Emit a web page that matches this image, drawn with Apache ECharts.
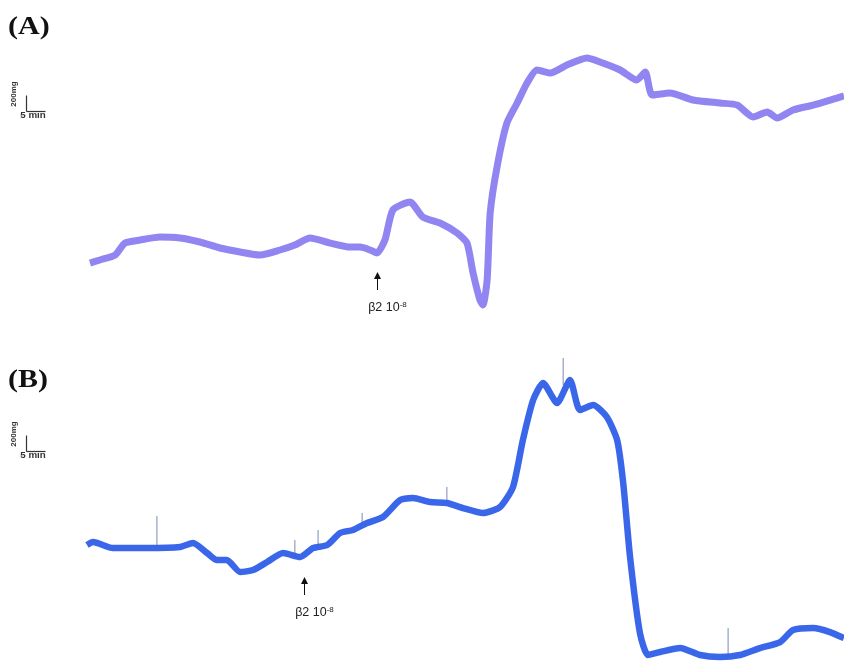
<!DOCTYPE html>
<html><head><meta charset="utf-8">
<script src="https://cdn.jsdelivr.net/npm/echarts@6/dist/echarts.min.js"></script>
<style>html,body{margin:0;padding:0;background:#fff}#c{width:844px;height:665px}</style>
</head><body><div id="c"></div>
<script>
// Panel A: time (min) and tension (mg)
var timeA = [0,2.6,6.6,9.2,13.2,18.4,23.7,28.9,34.2,39.5,44.7,50.0,53.9,57.9,63.2,68.4,71.1,73.7,75.5,77.6,79.7,84.2,87.6,92.1,96.6,99.2,100.8,102.6,103.4,104.5,105.3,107.1,109.7,112.4,115.0,117.6,121.1,125.5,130.8,134.2,139.5,143.9,146.1,147.9,152.6,158.7,165.8,170.3,174.5,178.2,180.8,185.0,190.3,197.4,198.4];
var tensionA = [712,750,812,962,1000,1037,1025,975,900,850,812,875,937,1025,962,912,912,875,837,1000,1375,1475,1287,1212,1087,962,587,250,187,500,1337,1912,2462,2712,2962,3125,3087,3187,3275,3225,3125,3000,3100,2812,2837,2750,2712,2687,2537,2600,2525,2625,2687,2787,2800];
// Panel B
var timeB = [0,1.6,6.8,15.8,24.5,27.9,31.6,34.2,36.8,40.3,43.7,47.4,51.6,56.1,59.5,63.2,66.6,70.0,73.7,77.9,82.4,85.8,90.3,94.7,98.9,104.2,108.7,112.1,114.7,117.4,120.0,123.7,127.1,129.7,133.2,136.8,139.5,141.1,142.9,145.5,147.6,150.8,156.1,161.3,166.6,171.8,177.1,182.4,185.8,191.1,195.5,199.2];
var tensionB = [1500,1537,1462,1462,1475,1525,1400,1312,1312,1162,1187,1287,1400,1350,1462,1500,1650,1687,1775,1850,2062,2087,2037,2025,1962,1900,1975,2225,2812,3312,3525,3275,3562,3187,3250,3100,2812,2275,1350,400,125,162,212,125,100,125,212,287,437,462,412,337];
// Panel B artefact spikes: time, base, top
var spikeTimeB = [18.4,54.7,60.8,72.4,94.7,125.3,168.7];
var spikeBaseB = [1475,1350,1462,1775,2025,3500,125];
var spikeTopB  = [1862,1562,1687,1900,2225,3837,462];
var panelLabels = ['(A)','(B)'];
var scaleY = '200mg', scaleX = '5 min';
var drugLabel = 'β2 10';
var drugExp = '-8';
var drugTimeA = 75.5, drugTimeB = 57.0;

function pairs(t, v){ return t.map(function(x,i){return [x, v[i]];}); }
function spikes(t, b, h){ var out=[]; t.forEach(function(x,i){ out.push([x,b[i]],[x,h[i]],null); }); return out; }

var chart = echarts.init(document.getElementById('c'));
var txtFont = '"Liberation Sans","Open Sans",sans-serif';

function scaleBar(top){
  return [
    {type:'line', left:24, top:top, shape:{x1:0,y1:0,x2:0,y2:16}, style:{stroke:'#333',lineWidth:1.2}},
    {type:'line', left:24, top:top+16, shape:{x1:0,y1:0,x2:19,y2:0}, style:{stroke:'#333',lineWidth:1.2}},
    {type:'text', x:14, y:top+1, rotation:Math.PI/2, style:{text:scaleY, font:'bold 8px '+txtFont, fill:'#333', align:'center', verticalAlign:'middle'}},
    {type:'text', x:33, y:top+23, scaleX:1.15, style:{text:scaleX, font:'bold 8.5px '+txtFont, fill:'#333', align:'center', verticalAlign:'middle'}}
  ];
}

var option = {
  animation:false,
  backgroundColor:'#fff',
  grid:[
    {left:90, right:0, top:20, height:300},
    {left:87, right:0, top:365, height:300}
  ],
  xAxis:[
    {gridIndex:0, type:'value', min:0, max:198.4, show:false},
    {gridIndex:1, type:'value', min:0, max:199.2, show:false}
  ],
  yAxis:[
    {gridIndex:0, type:'value', min:0, max:3750, show:false},
    {gridIndex:1, type:'value', min:0, max:3750, show:false}
  ],
  series:[
    {type:'line', xAxisIndex:0, yAxisIndex:0, data:pairs(timeA,tensionA), showSymbol:false, smooth:0.2, clip:false,
     lineStyle:{color:'#8a7ef0', width:7, opacity:0.95}},
    {type:'line', xAxisIndex:1, yAxisIndex:1, data:spikes(spikeTimeB,spikeBaseB,spikeTopB), showSymbol:false, clip:false, connectNulls:false,
     lineStyle:{color:'#7a88b8', width:1}},
    {type:'line', xAxisIndex:1, yAxisIndex:1, data:pairs(timeB,tensionB), showSymbol:false, smooth:0.2, clip:false,
     lineStyle:{color:'#2f5fe8', width:6.5, opacity:0.95}}
  ],
  graphic:[
    {type:'text', x:8, y:15, scaleX:1.2, style:{text:panelLabels[0], font:'bold 25px "Liberation Serif","DejaVu Serif",serif', fill:'#111'}},
    {type:'text', x:8, y:368, scaleX:1.2, style:{text:panelLabels[1], font:'bold 25px "Liberation Serif","DejaVu Serif",serif', fill:'#111'}}
  ].concat(scaleBar(93)).concat(scaleBar(433))
};
chart.setOption(option);

// Drug-application arrows placed through the axis scales
function addArrow(gridIdx, t, yTip, yTail, yText){
  var p = chart.convertToPixel({gridIndex:gridIdx}, [t, 0]);
  var x = Math.round(p[0]) + 0.5;
  return [
    {type:'line', shape:{x1:x,y1:yTip+4,x2:x,y2:yTail}, style:{stroke:'#111',lineWidth:1}},
    {type:'polygon', shape:{points:[[x,yTip],[x-3.5,yTip+7],[x+3.5,yTip+7]]}, style:{fill:'#111'}},
    {type:'text', x:x+10, y:yText, style:{rich:{a:{font:'12.5px '+txtFont, fill:'#222'}, s:{font:'8px '+txtFont, fill:'#222', verticalAlign:'top', padding:[0,0,7,0]}},
      text:'{a|'+drugLabel+'}{s|'+drugExp+'}', align:'center', verticalAlign:'middle'}}
  ];
}
var extra = addArrow(0,drugTimeA,272,290,308).concat(addArrow(1,drugTimeB,577,595,613));
chart.setOption({graphic: option.graphic.concat(extra)});
</script>
</body></html>
